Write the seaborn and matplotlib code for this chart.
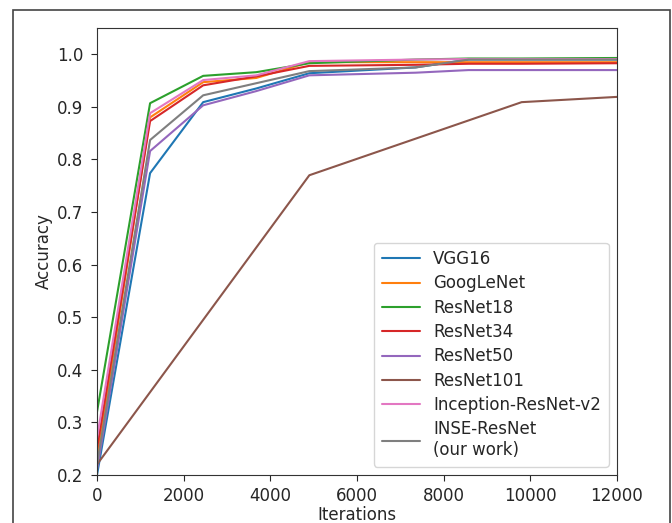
import matplotlib
matplotlib.use("Agg")
import matplotlib.pyplot as plt
import seaborn as sns
import pandas as pd
from matplotlib.patches import Rectangle

iters = [0, 1225, 2450, 3675, 4900, 7350, 8575, 9800, 12000]
iters_r101 = [0, 4900, 9800, 12000]

models = ["VGG16", "GoogLeNet", "ResNet18", "ResNet34", "ResNet50",
          "ResNet101", "Inception-ResNet-v2", "INSE-ResNet\n(our work)"]

vgg16 = [0.20, 0.774, 0.909, 0.935, 0.964, 0.975, 0.990, 0.990, 0.990]
googlenet = [0.23, 0.880, 0.947, 0.955, 0.985, 0.985, 0.985, 0.985, 0.985]
resnet18 = [0.32, 0.907, 0.959, 0.966, 0.983, 0.990, 0.992, 0.992, 0.993]
resnet34 = [0.25, 0.873, 0.941, 0.958, 0.978, 0.980, 0.982, 0.982, 0.983]
resnet50 = [0.21, 0.816, 0.903, 0.930, 0.960, 0.965, 0.970, 0.970, 0.970]
resnet101 = [0.22, 0.770, 0.909, 0.919]
inception = [0.27, 0.888, 0.951, 0.960, 0.987, 0.990, 0.991, 0.991, 0.991]
inse = [0.22, 0.837, 0.922, 0.945, 0.968, 0.975, 0.990, 0.990, 0.990]

series = [vgg16, googlenet, resnet18, resnet34, resnet50, resnet101, inception, inse]

rows = []
for name, vals in zip(models, series):
    xs = iters_r101 if name == "ResNet101" else iters
    for x, v in zip(xs, vals):
        rows.append({"Iterations": x, "Accuracy": v, "Model": name})
df = pd.DataFrame(rows)

sns.set_style("ticks")
plt.rcParams['font.family'] = ['DejaVu Sans']

fig = plt.figure(figsize=(6.72, 5.23), dpi=100)
ax = fig.add_axes([97/672, 48/523, 520/672, 447/523])

palette = sns.color_palette("tab10", 8)
sns.lineplot(data=df, x="Iterations", y="Accuracy", hue="Model",
             hue_order=models, palette=palette, estimator=None, sort=False,
             linewidth=1.5, ax=ax)

ax.set_xlim(0, 12000)
ax.set_ylim(0.2, 1.05)
ax.set_xticks([0, 2000, 4000, 6000, 8000, 10000, 12000])
ax.set_yticks([0.2, 0.3, 0.4, 0.5, 0.6, 0.7, 0.8, 0.9, 1.0])
ax.tick_params(axis="x", labelsize=12, length=4, pad=4.5)
ax.tick_params(axis="y", labelsize=12, length=4, pad=6)
ax.set_xlabel("Iterations", fontsize=12, labelpad=1)
ax.set_ylabel("Accuracy", fontsize=12, labelpad=3)
for s in ax.spines.values():
    s.set_visible(True)
    s.set_color("#333333")

leg = ax.legend(loc="lower right", fontsize=12, title=None, frameon=True,
                labelspacing=0.38, handlelength=2.3, borderaxespad=0.5,
                borderpad=0.45)
leg.get_frame().set_edgecolor("#cccccc")

fig.patches.append(Rectangle((13/672, -0.02), 657/672, 1 - 10/523 + 0.02,
                             transform=fig.transFigure, fill=False,
                             edgecolor="#444444", linewidth=1.2))

fig.savefig("out.png", dpi=100)
